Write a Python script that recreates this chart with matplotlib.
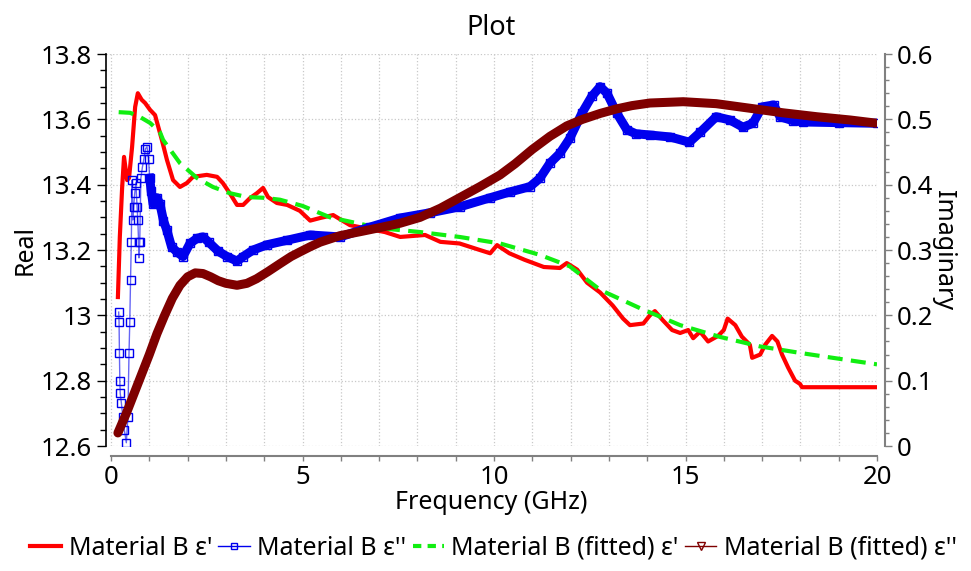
import numpy as np
import matplotlib
matplotlib.use("Agg")
import matplotlib.pyplot as plt
from matplotlib.lines import Line2D
from matplotlib.ticker import MultipleLocator

plt.rcParams["font.family"] = ["Noto Sans", "DejaVu Sans"]

# measured permittivity, real part (left axis)
f_re = [0.18, 0.23, 0.29, 0.34, 0.42, 0.47, 0.55, 0.63, 0.70, 0.80, 0.89, 1.02, 1.15,
        1.33, 1.46, 1.62, 1.80, 1.98, 2.14, 2.50, 2.77, 2.92, 3.10, 3.29, 3.45, 3.63,
        3.81, 3.97, 4.10, 4.33, 4.60, 4.93, 5.20, 5.46, 5.80, 6.24, 6.63, 7.15, 7.55,
        8.20, 8.60, 9.10, 9.63, 9.90, 10.08, 10.40, 10.80, 11.30, 11.72, 11.90, 12.17,
        12.43, 12.77, 13.10, 13.37, 13.55, 13.90, 14.07, 14.20, 14.40, 14.65, 14.86,
        15.07, 15.20, 15.38, 15.59, 15.85, 16.00, 16.10, 16.30, 16.47, 16.68, 16.74,
        16.95, 17.08, 17.26, 17.40, 17.52, 17.68, 17.86, 17.99, 18.04, 19.00, 20.00]
eps_re = [13.056, 13.24, 13.39, 13.485, 13.414, 13.42, 13.515, 13.638, 13.68, 13.66,
          13.65, 13.629, 13.613, 13.536, 13.476, 13.414, 13.393, 13.405, 13.424, 13.43,
          13.424, 13.405, 13.374, 13.338, 13.338, 13.359, 13.374, 13.39, 13.362, 13.344,
          13.338, 13.32, 13.29, 13.298, 13.307, 13.276, 13.267, 13.255, 13.24, 13.246,
          13.225, 13.22, 13.20, 13.19, 13.215, 13.19, 13.17, 13.148, 13.145, 13.16,
          13.14, 13.10, 13.07, 13.03, 12.99, 12.97, 12.975, 13.0, 13.013, 12.986, 12.955,
          12.946, 12.955, 12.93, 12.95, 12.92, 12.937, 12.955, 12.99, 12.97, 12.935,
          12.91, 12.87, 12.88, 12.91, 12.937, 12.92, 12.88, 12.84, 12.80, 12.79, 12.78,
          12.78, 12.78]

# fitted real part (left axis)
f_re_fit = [0.2, 0.5, 0.76, 1.02, 1.28, 1.36, 1.8, 2.25, 2.66, 3.1, 3.55, 3.97, 4.41,
            5.0, 5.72, 7.02, 8.07, 9.1, 10.16, 11.2, 11.98, 12.77, 13.81, 14.86, 15.9,
            16.94, 17.99, 18.5, 19.3, 20.0]
eps_re_fit = [13.622, 13.62, 13.607, 13.589, 13.56, 13.537, 13.466, 13.42, 13.393,
              13.374, 13.362, 13.36, 13.354, 13.335, 13.30, 13.267, 13.255, 13.24, 13.22,
              13.185, 13.15, 13.078, 13.022, 12.97, 12.934, 12.905, 12.885, 12.876,
              12.862, 12.85]

# measured imaginary part (right axis)
f_im = [0.20, 0.21, 0.22, 0.23, 0.24, 0.27, 0.31, 0.35, 0.40, 0.44, 0.47, 0.49, 0.51,
        0.53, 0.55, 0.57, 0.59, 0.62, 0.65, 0.68, 0.70, 0.72, 0.73, 0.75, 0.78, 0.82,
        0.86, 0.90, 0.94, 0.98, 1.01, 1.05, 1.10, 1.20, 1.28, 1.37, 1.46, 1.58, 1.72,
        1.88, 2.06, 2.25, 2.40, 2.55, 2.80, 3.03, 3.29, 3.45, 3.71, 4.07, 4.60, 5.20,
        5.98, 6.76, 7.55, 8.33, 9.10, 9.90, 10.42, 10.94, 11.20, 11.46, 11.72, 11.98,
        12.30, 12.55, 12.77, 12.95, 13.20, 13.47, 13.70, 14.07, 14.60, 15.10, 15.38,
        15.80, 16.16, 16.50, 16.76, 17.00, 17.30, 17.47, 17.80, 18.07, 19.00, 20.00]
eps_im = [0.205, 0.19, 0.142, 0.10, 0.081, 0.066, 0.044, 0.024, 0.005, 0.044, 0.142,
          0.19, 0.254, 0.312, 0.407, 0.346, 0.366, 0.387, 0.403, 0.366, 0.346, 0.312,
          0.288, 0.312, 0.41, 0.427, 0.44, 0.455, 0.458, 0.44, 0.41, 0.39, 0.37, 0.38,
          0.37, 0.345, 0.33, 0.305, 0.297, 0.29, 0.31, 0.318, 0.32, 0.312, 0.298, 0.29,
          0.283, 0.29, 0.30, 0.308, 0.315, 0.323, 0.32, 0.335, 0.349, 0.357, 0.366, 0.38,
          0.389, 0.397, 0.41, 0.433, 0.448, 0.471, 0.51, 0.535, 0.55, 0.54, 0.51, 0.484,
          0.478, 0.476, 0.473, 0.465, 0.48, 0.504, 0.499, 0.488, 0.494, 0.519, 0.522,
          0.504, 0.498, 0.496, 0.495, 0.494]

# fitted imaginary part (right axis)
f_im_fit = [0.18, 0.4, 0.6, 0.8, 1.0, 1.2, 1.4, 1.6, 1.8, 2.0, 2.2, 2.4, 2.6, 2.8, 3.0,
            3.29, 3.55, 3.8, 4.1, 4.41, 4.7, 4.93, 5.2, 5.46, 5.98, 6.5, 7.0, 7.55, 8.07,
            8.6, 9.1, 9.63, 10.16, 10.55, 11.0, 11.46, 11.9, 12.31, 12.77, 13.2, 13.6,
            14.07, 14.94, 15.8, 16.68, 17.55, 18.43, 19.3, 20.0]
eps_im_fit = [0.02, 0.05, 0.08, 0.11, 0.14, 0.172, 0.2, 0.226, 0.246, 0.259, 0.265,
              0.264, 0.259, 0.253, 0.249, 0.246, 0.249, 0.256, 0.267, 0.279, 0.29, 0.297,
              0.305, 0.312, 0.322, 0.328, 0.334, 0.341, 0.35, 0.364, 0.38, 0.397, 0.415,
              0.432, 0.454, 0.474, 0.49, 0.5, 0.509, 0.516, 0.521, 0.525, 0.527, 0.524,
              0.517, 0.51, 0.504, 0.499, 0.494]

RED, BLUE, GREEN, DRED = "#ff0000", "#0000ee", "#11ee11", "#7f0000"
GRAY = "#808080"

fig = plt.figure(figsize=(9.71, 5.71), dpi=100)
ax = fig.add_axes([0.1092, 0.2189, 0.7940, 0.6865])
ax2 = ax.twinx()

ax.plot(f_re, eps_re, color=RED, lw=3, zorder=3)
ax.plot(f_re_fit, eps_re_fit, color=GREEN, lw=3, dashes=(3.6, 2), zorder=3)

f_im_a = np.array(f_im)
eps_im_a = np.array(eps_im)
dense = f_im_a >= 1.0
ax2.plot(f_im, eps_im, color=BLUE, lw=1, alpha=0.6, zorder=3)
ax2.plot(f_im_a[dense], eps_im_a[dense], color=BLUE, lw=6.5, zorder=3)
ax2.plot(f_im, eps_im, ls="none", marker="s", ms=5.5, mfc="none", mec=BLUE, mew=1, zorder=3)
ax2.plot(f_im_fit, eps_im_fit, color=DRED, lw=6.5, solid_capstyle="round", zorder=4)

ax.set_xlim(-0.13, 20)
ax.set_ylim(12.6, 13.8)
ax2.set_ylim(0, 0.6)

ax.xaxis.set_major_locator(MultipleLocator(5))
ax.xaxis.set_minor_locator(MultipleLocator(1))
ax.yaxis.set_major_locator(MultipleLocator(0.2))
ax.yaxis.set_minor_locator(MultipleLocator(0.05))
ax2.yaxis.set_major_locator(MultipleLocator(0.1))
ax2.yaxis.set_minor_locator(MultipleLocator(0.02))
ax.yaxis.set_major_formatter(lambda v, p: f"{v:g}")
ax2.yaxis.set_major_formatter(lambda v, p: f"{v:g}")
ax.xaxis.set_major_formatter(lambda v, p: f"{v:g}")

ax.grid(True, which="both", axis="x", color="#c8c8c8", ls=":", lw=0.9)
ax.grid(True, which="major", axis="y", color="#c8c8c8", ls=":", lw=0.9)
ax.set_axisbelow(True)

for a in (ax, ax2):
    a.spines["top"].set_visible(False)
ax2.spines["left"].set_visible(False)
ax2.spines["bottom"].set_visible(False)
ax.spines["right"].set_visible(False)
ax.spines["bottom"].set_position(("outward", 7))
ax.spines["bottom"].set_bounds(0, 20)
ax.spines["bottom"].set_color(GRAY)
ax.spines["bottom"].set_linewidth(1.5)
ax.spines["left"].set_linewidth(1.2)
ax2.spines["right"].set_position(("outward", 6))
ax2.spines["right"].set_color(GRAY)
ax2.spines["right"].set_linewidth(1.5)

fs_tick = 18.5
fs = 18
ax.tick_params(axis="y", which="major", length=6.5, width=1, labelsize=fs_tick, pad=3.5)
ax.tick_params(axis="y", which="minor", length=4, width=1)
ax.tick_params(axis="x", which="both", length=3.5, width=1, color=GRAY, labelsize=fs_tick, pad=3)
ax2.tick_params(axis="y", which="major", length=5, width=1, color=GRAY, labelsize=fs_tick, pad=3.5)
ax2.tick_params(axis="y", which="minor", length=3, width=1, color=GRAY)

ax.set_xlabel("Frequency (GHz)", fontsize=fs, labelpad=0)
ax.set_ylabel("Real", fontsize=fs, labelpad=2)
ax2.set_ylabel("Imaginary", fontsize=fs, rotation=270, labelpad=16)
ax.set_title("Plot", fontsize=19.5, pad=14)

handles = [
    Line2D([0], [0], color=RED, lw=3),
    Line2D([0], [0], color=BLUE, lw=1, marker="s", ms=5, mfc="none", mew=1),
    Line2D([0], [0], color=GREEN, lw=3, dashes=(2, 1.5)),
    Line2D([0], [0], color=DRED, lw=1, marker="v", ms=6, mfc="none", mew=1),
]
labels = ["Material B ε'", "Material B ε''", "Material B (fitted) ε'", "Material B (fitted) ε''"]
fig.legend(handles, labels, loc="center", bbox_to_anchor=(0.508, 0.04), ncol=4,
           frameon=False, fontsize=fs, handlelength=1.25, handletextpad=0.3,
           columnspacing=0.25)

fig.savefig("out.png", dpi=100)
